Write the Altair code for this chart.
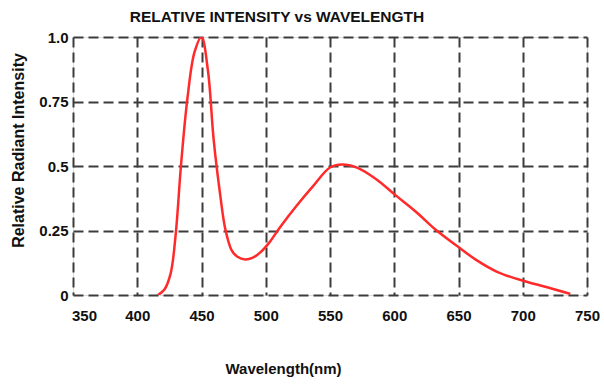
import altair as alt
import pandas as pd

wavelength = [416, 421, 426, 430, 434, 439, 444.5, 450, 455, 459.5, 464.5, 468.5, 473.5,
              478, 484, 490, 496, 503, 511, 524, 537, 550, 559, 571, 586, 600, 617.5,
              632, 650, 664, 680, 701, 719, 737]
intensity = [0.0, 0.02, 0.084, 0.24, 0.50, 0.76, 0.94, 1.0, 0.87, 0.60, 0.39, 0.256,
             0.173, 0.148, 0.138, 0.145, 0.166, 0.205, 0.262, 0.346, 0.423, 0.494, 0.506,
             0.494, 0.449, 0.391, 0.32, 0.254, 0.186, 0.135, 0.09, 0.054, 0.03, 0.004]
x_ticks = [350, 400, 450, 500, 550, 600, 650, 700, 750]
y_ticks = [0, 0.25, 0.5, 0.75, 1.0]

df = pd.DataFrame({"wl": wavelength, "v": intensity})

FONT = "Liberation Sans"
GRID = dict(grid=True, gridDash=[10, 5], gridColor="#3c3c3c", gridWidth=2)

chart = alt.Chart(df).mark_line(
    color="#ff2a2a", strokeWidth=2.5, interpolate="catmull-rom", clip=True
).encode(
    x=alt.X("wl:Q", scale=alt.Scale(domain=[350, 750], nice=False, zero=False),
            axis=alt.Axis(values=x_ticks, title="Wavelength(nm)", format="d",
                          domain=False, ticks=False, labelPadding=13,
                          labelOffset={"condition": {"test": "datum.value == 350", "value": 11},
                                       "value": 0},
                          labelFont=FONT, labelFontWeight="bold", labelFontSize=15,
                          labelColor="#111", labelFlush=False,
                          titleFont=FONT, titleFontWeight="bold", titleFontSize=15,
                          titleColor="#111", titleX=210, titleY=73,
                          titleBaseline="middle", titleAlign="center", **GRID)),
    y=alt.Y("v:Q", scale=alt.Scale(domain=[0, 1], nice=False),
            axis=alt.Axis(values=y_ticks, title="Relative Radiant Intensity",
                          labelExpr="datum.value == 0 ? '0' : datum.value == 1 ? '1.0' : format(datum.value, '.2~f')",
                          domain=False, ticks=False, labelPadding=5,
                          labelFont=FONT, labelFontWeight="bold", labelFontSize=15,
                          labelColor="#111", labelFlush=False,
                          titleFont=FONT, titleFontWeight="bold", titleFontSize=16,
                          titleColor="#111", titleAngle=-90, titleX=-55, titleY=113,
                          titleBaseline="middle", titleAlign="center", **GRID)),
).properties(
    width=514, height=258,
    title=alt.TitleParams("RELATIVE INTENSITY vs WAVELENGTH", font=FONT, fontSize=15.5,
                          fontWeight="bold", color="#111", anchor="middle", dx=-53,
                          offset=12, baseline="bottom", dy=22),
    autosize=alt.AutoSizeParams(type="none"),
    padding={"left": 73, "top": 37, "right": 17, "bottom": 90},
).configure_view(
    stroke="#4a4a4a", strokeWidth=2
).configure(background="white")

chart.save("out.html", embed_options={"renderer": "svg", "actions": False})
